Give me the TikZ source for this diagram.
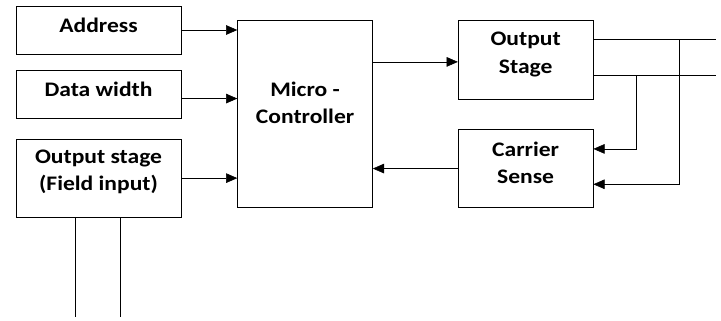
\documentclass[tikz,border=0pt]{standalone}
\usepackage{fontspec}
\setmainfont{Carlito}[FakeStretch=1.14]
\usepackage{tikz}
\usetikzlibrary{positioning, arrows.meta, calc}
\tikzset{
	>={Triangle[length=2.8mm, width=2.4mm]},
	line width=1pt,
	block/.style={draw, rectangle, minimum width=4.125cm, minimum height=1.2cm, inner sep=0pt},
	unit/.style={block, minimum width=3.375cm},
	txt/.style={align=center, font=\fontsize{14.7}{19.5}\selectfont\bfseries, inner sep=0pt},
}

\begin{document}
\begin{tikzpicture}
			\useasboundingbox (0,0) rectangle (18.025,-8);
			\node[block] (ADDR) at (2.4625,-0.75) {};
			\node[block, below=0.4cm of ADDR] (DATA) {};
			\node[block, below=0.5cm of DATA, minimum height=1.95cm] (FIELD) {};
			\node[unit, minimum height=4.675cm, right=1.4cm of ADDR.north east, anchor=north west, yshift=-0.35cm] (MC) {};
			\node[unit, minimum height=1.975cm, right=2.125cm of MC.north east, anchor=north west] (OUT) {};
			\node[unit, minimum height=1.95cm, below=0.75cm of OUT] (CS) {};
			
			% box texts sit a little above the middle
			\node[txt, above=0.125cm of ADDR.center, anchor=center] (tADDR) {Address};
			\node[txt, above=0.125cm of DATA.center, anchor=center] (tDATA) {Data width};
			\node[txt, above=0.16cm of FIELD.center, anchor=center] (tFIELD) {Output stage\\(Field input)};
			\node[txt, above=0.26cm of MC.center, anchor=center] (tMC) {Micro -\\Controller};
			\node[txt, above=0.13cm of OUT.center, anchor=center] (tOUT) {Output\\Stage};
			\node[txt, above=0.14cm of CS.center, anchor=center] (tCS) {Carrier\\Sense};
			
			% outputs of the output stage
			\coordinate (o1) at ($(OUT.north east)!0.25!(OUT.south east)$);
			\coordinate (o2) at ($(OUT.north east)!0.7!(OUT.south east)$);
			\coordinate (c1) at ($(CS.north east)!0.25!(CS.south east)$);
			\coordinate (c2) at ($(CS.north east)!0.7!(CS.south east)$);
			\coordinate (l1) at (17.9,0 |- o1);
			\coordinate (l2) at (17.9,0 |- o2);
			\coordinate (f1) at ($(FIELD.south west)!0.36!(FIELD.south east)$);
			\coordinate (f2) at ($(FIELD.south west)!0.63!(FIELD.south east)$);
			
			\draw[->] (ADDR.east) -- (ADDR.east -| MC.west);
			\draw[->] ([yshift=-0.1cm]DATA.east) -- ([yshift=-0.1cm]DATA.east -| MC.west);
			\draw[->] (FIELD.east) -- (FIELD.east -| MC.west);
			\draw[->] ([yshift=-0.06cm]MC.east |- OUT.west) -- ([yshift=-0.06cm]OUT.west);
			\draw[->] (CS.west) -- (CS.west -| MC.east);
			\draw (o1) -- (l1);
			\draw (o2) -- (l2);
			\draw[->] (16.975,0 |- o1) -- (16.975,0 |- c2) -- (c2);
			\draw[->] (15.9,0 |- o2) -- (15.9,0 |- c1) -- (c1);
			\draw (f1) -- ++(0,-2.5);
			\draw (f2) -- ++(0,-2.5);
		\end{tikzpicture}
\end{document}
